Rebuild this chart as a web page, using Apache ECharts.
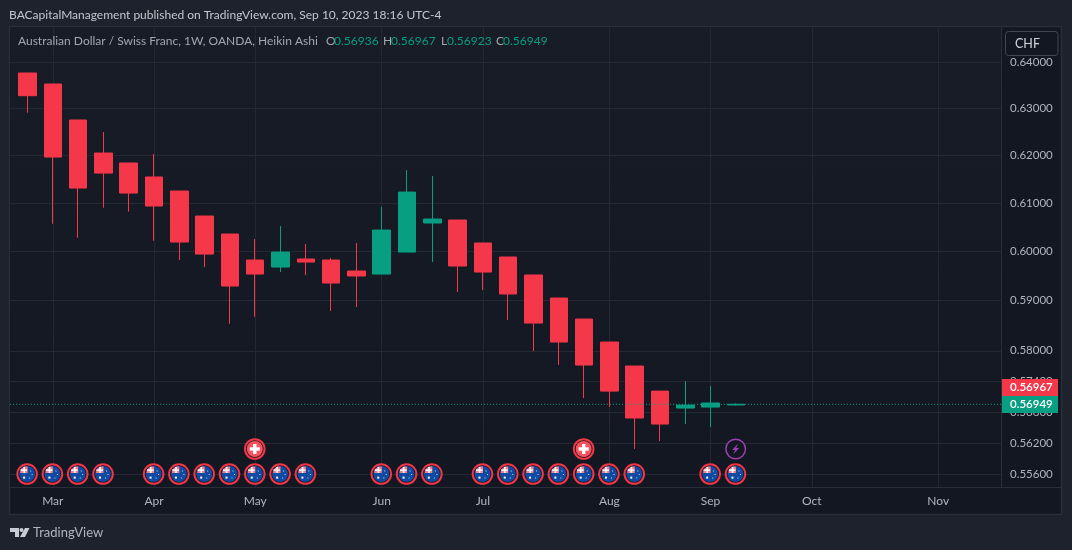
<!DOCTYPE html>
<html>
<head>
<meta charset="utf-8">
<style>
html, body { margin: 0; padding: 0; background: #1e222d; }
#chart { width: 1072px; height: 550px; }
</style>
<script src="https://cdn.jsdelivr.net/npm/echarts@6/dist/echarts.min.js"></script>
</head>
<body>
<div id="chart"></div>
<script>
// weekly Heikin Ashi candles (x axis counts weeks from Feb 27 2023)
var weeks = [0,1,2,3,4,5,6,7,8,9,10,11,12,13,14,15,16,17,18,19,20,21,22,23,24,25,26,27,28];
var opens = [0.63771,0.63532,0.62756,0.62052,0.61841,0.61546,0.61252,0.60731,0.60359,0.59825,
    0.59682,0.59846,0.59825,0.59601,0.59539,0.59988,0.60586,0.60648,0.60174,0.59887,
    0.59520,0.59054,0.58632,0.58173,0.57698,0.57206,0.56876,0.56895,0.56936];
var closes = [0.63279,0.61967,0.61314,0.61628,0.61209,0.60939,0.60194,0.59947,0.59296,0.59539,
    0.59988,0.59784,0.59357,0.59500,0.60441,0.61230,0.60669,0.59703,0.59580,0.59135,
    0.58551,0.58173,0.57718,0.57206,0.56683,0.56566,0.56934,0.56974,0.56949];
var lows = [0.62913,0.60572,0.60283,0.60903,0.60821,0.60221,0.59825,0.59682,0.58537,0.58678,
    0.59580,0.59520,0.58793,0.58873,0.59539,0.59988,0.59784,0.59175,0.59215,0.58611,
    0.57995,0.57718,0.57071,0.56895,0.56087,0.56239,0.56566,0.56508,0.56923];
var highs = [0.63771,0.63532,0.62756,0.62498,0.61841,0.62031,0.61252,0.60731,0.60359,0.60256,
    0.60524,0.60153,0.59866,0.60174,0.60917,0.61692,0.61566,0.60648,0.60174,0.59887,
    0.59520,0.59054,0.58632,0.58173,0.57698,0.57206,0.57403,0.57306,0.56967];

var priceTicks = [0.64,0.63,0.62,0.61,0.60,0.59,0.58,0.574,0.568,0.562,0.556];
var monthTicks = [1,5,9,14,18,23,27,31,36];
var monthNames = ['Mar','Apr','May','Jun','Jul','Aug','Sep','Oct','Nov'];

// economic event markers: week lists
var auEvents = [0,1,2,3,5,6,7,8,9,10,11,14,15,16,18,19,20,21,22,23,24,27,28];
var chEvents = [9,22];
var boltEvents = [28];
var lowRowPrice = 0.55609;
var highRowPrice = 0.56086;

var xMin = -0.692, xMax = 38.52;
var lastClose = 0.56949;

var RED = '#f5374a', GREEN = '#089e82', TEXT = '#b2b5be', LINE = '#242833';
var FONT = 'Lato, "Open Sans", sans-serif';

function auMarker(params, api) {
    var p = api.coord([api.value(0), api.value(1)]);
    var x = p[0] - 0.4, y = p[1];
    return { type: 'group', children: [
        { type: 'circle', shape: {cx: x, cy: y, r: 9.8}, style: {fill: '#131722', stroke: '#f23645', lineWidth: 2} },
        { type: 'circle', shape: {cx: x, cy: y, r: 8}, style: {fill: '#0f4aa3'} },
        { type: 'polygon', shape: {points: [[x - 6.5, y - 4.5], [x - 3, y - 7.4], [x + 0.5, y - 7.4], [x + 0.5, y - 1], [x - 7, y - 1]]}, style: {fill: '#f0808c'} },
        { type: 'rect', shape: {x: x - 3.7, y: y - 7, width: 1.6, height: 6}, style: {fill: '#ffffff'} },
        { type: 'rect', shape: {x: x - 6.5, y: y - 4.6, width: 6.5, height: 1.4}, style: {fill: '#ffffff'} },
        { type: 'rect', shape: {x: x - 4, y: y + 2.6, width: 2, height: 2}, style: {fill: '#ffffff'} },
        { type: 'rect', shape: {x: x + 3, y: y - 3.5, width: 1, height: 1}, style: {fill: '#c9d6ee'} },
        { type: 'rect', shape: {x: x + 4.5, y: y, width: 1, height: 1}, style: {fill: '#c9d6ee'} },
        { type: 'rect', shape: {x: x + 2, y: y + 3.5, width: 1, height: 1}, style: {fill: '#c9d6ee'} }
    ]};
}

function chMarker(params, api) {
    var p = api.coord([api.value(0), api.value(1)]);
    var x = p[0] - 0.4, y = p[1];
    return { type: 'group', children: [
        { type: 'circle', shape: {cx: x, cy: y, r: 9.8}, style: {fill: '#131722', stroke: '#f23645', lineWidth: 2} },
        { type: 'circle', shape: {cx: x, cy: y, r: 8}, style: {fill: '#f7525f'} },
        { type: 'rect', shape: {x: x - 5, y: y - 1.7, width: 10, height: 3.4}, style: {fill: '#ffffff'} },
        { type: 'rect', shape: {x: x - 1.7, y: y - 5, width: 3.4, height: 10}, style: {fill: '#ffffff'} }
    ]};
}

function boltMarker(params, api) {
    var p = api.coord([api.value(0), api.value(1)]);
    var x = p[0] - 0.2, y = p[1];
    return { type: 'group', children: [
        { type: 'circle', shape: {cx: x, cy: y, r: 9.8}, style: {fill: '#131722', stroke: '#9c3fb0', lineWidth: 1.5} },
        { type: 'polygon', shape: {points: [[x + 2.5, y - 5.5], [x - 3.5, y + 1], [x - 0.5, y + 1], [x - 2.5, y + 5.5], [x + 3.5, y - 1], [x + 0.5, y - 1]]}, style: {fill: '#9c3fb0'} }
    ]};
}

function eventData(list, price) {
    return list.map(function (w) { return [w, price]; });
}

function legendText(x, text, color) {
    return { type: 'text', z: 10, x: x, y: 35, style: {text: text, fill: color, font: '12px ' + FONT} };
}

var myChart = echarts.init(document.getElementById('chart'));

var option = {
    animation: false,
    backgroundColor: '#1e222d',
    textStyle: { fontFamily: FONT },
    grid: {
        show: true,
        left: 10,
        right: 70,
        top: 27,
        bottom: 63,
        borderColor: 'transparent',
        backgroundColor: new echarts.graphic.LinearGradient(0, 0, 0, 1, [
            { offset: 0, color: '#181c27' },
            { offset: 1, color: '#131722' }
        ])
    },
    xAxis: {
        type: 'value',
        min: xMin,
        max: xMax,
        axisLine: { show: false },
        axisTick: { show: false, customValues: monthTicks },
        splitLine: { show: true, lineStyle: { color: LINE, width: 1 } },
        axisLabel: {
            customValues: monthTicks,
            color: TEXT,
            fontSize: 12,
            margin: 8,
            fontFamily: FONT,
            formatter: function (value) { return monthNames[monthTicks.indexOf(value)]; }
        }
    },
    yAxis: {
        type: 'log',
        position: 'right',
        min: 0.55363,
        max: 0.64781,
        axisLine: { show: false },
        axisTick: { show: false, customValues: priceTicks },
        splitLine: { show: true, lineStyle: { color: LINE, width: 1 } },
        axisLabel: {
            customValues: priceTicks,
            color: TEXT,
            fontSize: 11.5,
            margin: 8,
            fontFamily: FONT,
            formatter: function (value) { return Number(value).toFixed(5); }
        }
    },
    series: [{
        type: 'candlestick',
        barWidth: 18,
        z: 3,
        itemStyle: {
            color: GREEN,
            color0: RED,
            borderColor: GREEN,
            borderColor0: RED,
            borderWidth: 1,
            borderJoin: 'miter'
        },
        data: weeks.map(function (w, i) { return [w, opens[i], closes[i], lows[i], highs[i]]; })
    }, {
        // last price line
        type: 'line',
        z: 4,
        silent: true,
        showSymbol: false,
        lineStyle: { color: GREEN, type: [1, 2], width: 1 },
        data: [[xMin, lastClose], [xMax, lastClose]]
    }, {
        type: 'custom', z: 4, clip: false, renderItem: auMarker, data: eventData(auEvents, lowRowPrice)
    }, {
        type: 'custom', z: 4, clip: false, renderItem: chMarker, data: eventData(chEvents, highRowPrice)
    }, {
        type: 'custom', z: 4, clip: false, renderItem: boltMarker, data: eventData(boltEvents, highRowPrice)
    }],
    graphic: [
        // pane frame
        { type: 'rect', z: -1, shape: {x: 9.5, y: 26.5, width: 1052, height: 488}, style: {fill: '#131722', stroke: '#2a2e39', lineWidth: 1.5} },
        // axis separators
        { type: 'line', z: 1, shape: {x1: 10, y1: 487.5, x2: 1061, y2: 487.5}, style: {stroke: '#2a2e39', lineWidth: 1} },
        { type: 'line', z: 1, shape: {x1: 1001.5, y1: 27, x2: 1001.5, y2: 487}, style: {stroke: '#2a2e39', lineWidth: 1} },
        // published line
        { type: 'text', z: 10, x: 9, y: 9, style: {
            text: 'BACapitalManagement published on TradingView.com, Sep 10, 2023 18:16 UTC-4',
            fill: '#c3c6ce', font: '12px ' + FONT } },
        // ohlc legend
        legendText(18, 'Australian Dollar / Swiss Franc, 1W, OANDA, Heikin Ashi', '#a3a6af'),
        legendText(326, 'O', '#a3a6af'),
        legendText(334, '0.56936', GREEN),
        legendText(383, 'H', '#a3a6af'),
        legendText(391, '0.56967', GREEN),
        legendText(441, 'L', '#a3a6af'),
        legendText(447, '0.56923', GREEN),
        legendText(496, 'C', '#a3a6af'),
        legendText(503, '0.56949', GREEN),
        // CHF button
        { type: 'rect', z: 10, shape: {x: 1005.5, y: 31.5, width: 52.5, height: 24, r: 3}, style: {fill: '#131722', stroke: '#434651', lineWidth: 1} },
        { type: 'text', z: 11, x: 1015, y: 43.5, style: {text: 'CHF', fill: '#d1d4dc', font: '12.5px ' + FONT, verticalAlign: 'middle'} },
        // last price badges
        { type: 'rect', z: 10, shape: {x: 1002, y: 379, width: 56, height: 17}, style: {fill: RED} },
        { type: 'text', z: 11, x: 1010, y: 387.5, style: {text: '0.56967', fill: '#ffffff', font: '600 11.5px ' + FONT, verticalAlign: 'middle'} },
        { type: 'rect', z: 10, shape: {x: 1002, y: 396, width: 56, height: 17}, style: {fill: GREEN} },
        { type: 'text', z: 11, x: 1010, y: 404.5, style: {text: '0.56949', fill: '#ffffff', font: '600 11.5px ' + FONT, verticalAlign: 'middle'} },
        // logo
        { type: 'polygon', z: 10, shape: {points: [[10, 528], [19, 528], [19, 537], [15, 537], [15, 532], [10, 532]]}, style: {fill: '#c8cbd3'} },
        { type: 'circle', z: 10, shape: {cx: 21.5, cy: 530, r: 2}, style: {fill: '#c8cbd3'} },
        { type: 'polygon', z: 10, shape: {points: [[25, 528], [29.5, 528], [25, 537], [20, 537]]}, style: {fill: '#c8cbd3'} },
        { type: 'text', z: 10, x: 33, y: 526, style: {text: 'TradingView', fill: '#b2b5be', font: '13px ' + FONT} }
    ]
};
myChart.setOption(option);
</script>
</body>
</html>
